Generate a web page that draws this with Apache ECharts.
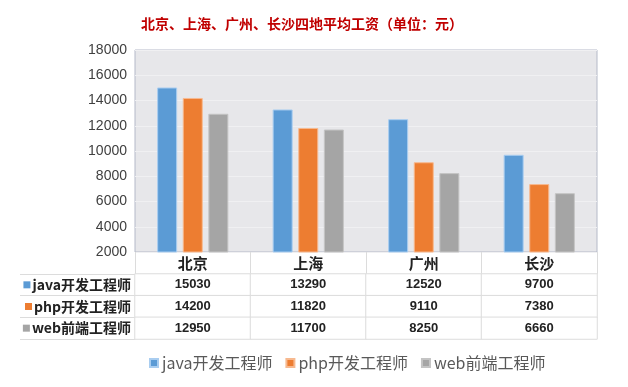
<!DOCTYPE html>
<html>
<head>
<meta charset="utf-8">
<script src="https://cdn.jsdelivr.net/npm/echarts@6/dist/echarts.min.js"></script>
<style>html,body{margin:0;padding:0;background:#fff}#c{width:628px;height:387px}</style>
</head>
<body>
<div id="c"></div>
<script>
var titleText = '北京、上海、广州、长沙四地平均工资（单位：元）';
var cities = ['北京', '上海', '广州', '长沙'];
var seriesNames = ['java开发工程师', 'php开发工程师', 'web前端工程师'];
var javaValues = [15030, 13290, 12520, 9700];
var phpValues = [14200, 11820, 9110, 7380];
var webValues = [12950, 11700, 8250, 6660];
var yTicks = [2000, 4000, 6000, 8000, 10000, 12000, 14000, 16000, 18000];

var colors = ['#5b9bd5', '#ed7d31', '#a5a5a5'];
var allValues = [javaValues, phpValues, webValues];

var tableData = [];
allValues.forEach(function (vals, r) {
  vals.forEach(function (v, c) { tableData.push([c, r, v]); });
});

var numFont = '"Liberation Sans", "Noto Sans", sans-serif';
var cjkFont = '"Noto Sans CJK SC", sans-serif';

var chart = echarts.init(document.getElementById('c'), null, {renderer: 'canvas'});
chart.setOption({
  animation: false,
  color: colors,
  title: {
    text: titleText, left: 136, top: 12,
    textStyle: {color: '#c00000', fontSize: 14, fontWeight: 'bold', fontFamily: cjkFont}
  },
  legend: {
    bottom: 11, left: 144, itemWidth: 8, itemHeight: 8, itemGap: 13,
    icon: 'rect',
    textStyle: {color: '#595959', fontSize: 16, fontFamily: cjkFont, padding: [0, 0, 0, -1]},
    data: seriesNames
  },
  visualMap: {show: false, seriesIndex: 3, min: 0, max: 20000, inRange: {color: ['#ffffff', '#ffffff']}},
  grid: [
    {left: 135, right: 31, top: 50, bottom: 135, show: true, backgroundColor: '#e7e7ea', borderColor: '#b4b9c8', borderWidth: 1},
    {left: 135, right: 31, top: 274, height: 65}
  ],
  xAxis: [
    {
      type: 'category', gridIndex: 0, data: cities,
      axisLine: {show: false},
      axisTick: {show: true, length: 22, interval: 0, lineStyle: {color: '#dcdcdc'}},
      axisLabel: {color: '#222', fontSize: 15, fontWeight: 'bold', fontFamily: cjkFont, margin: 4}
    },
    {
      type: 'category', gridIndex: 1, data: cities,
      axisLine: {show: false}, axisTick: {show: false}, axisLabel: {show: false}
    }
  ],
  yAxis: [
    {
      type: 'value', gridIndex: 0, min: yTicks[0], max: yTicks[yTicks.length - 1], interval: 2000,
      axisLine: {show: false}, axisTick: {show: false},
      splitLine: {lineStyle: {color: '#f0f0f2', width: 1}},
      axisLabel: {color: '#404040', fontSize: 14, fontFamily: numFont, margin: 8,
        formatter: function (v) { return String(v); }}
    },
    {
      type: 'category', gridIndex: 1, data: seriesNames, inverse: true,
      axisLine: {show: false},
      axisTick: {show: true, length: 115, interval: 0, lineStyle: {color: '#dcdcdc'}},
      axisLabel: {
        margin: 4, align: 'right', interval: 0,
        formatter: function (v, i) { return '{s' + i + '|}{t|' + v + '}'; },
        rich: {
          s0: {backgroundColor: colors[0], width: 7, height: 7},
          s1: {backgroundColor: colors[1], width: 7, height: 7},
          s2: {backgroundColor: colors[2], width: 7, height: 7},
          t: {color: '#222', fontSize: 14, fontWeight: 'bold', fontFamily: cjkFont, padding: [0, 0, 0, 2]}
        }
      }
    }
  ],
  series: [
    {name: seriesNames[0], type: 'bar', data: javaValues, barWidth: 20, barGap: '28%',
      itemStyle: {color: colors[0], borderColor: '#a9cdf0', borderWidth: 1}},
    {name: seriesNames[1], type: 'bar', data: phpValues, barWidth: 20, barGap: '28%',
      itemStyle: {color: colors[1], borderColor: '#f7b98f', borderWidth: 1}},
    {name: seriesNames[2], type: 'bar', data: webValues, barWidth: 20, barGap: '28%',
      itemStyle: {color: colors[2], borderColor: '#c4c4c4', borderWidth: 1}},
    {
      type: 'heatmap', xAxisIndex: 1, yAxisIndex: 1, data: tableData,
      itemStyle: {borderColor: '#dcdcdc', borderWidth: 1},
      label: {show: true, color: '#222', fontSize: 13, fontWeight: 'bold', fontFamily: numFont},
      emphasis: {disabled: true}
    }
  ]
});
</script>
</body>
</html>
